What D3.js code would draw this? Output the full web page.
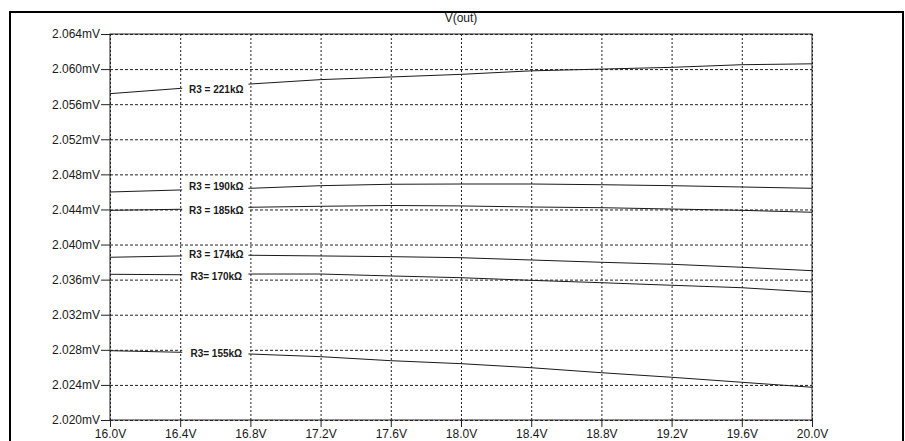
<!DOCTYPE html>
<html>
<head>
<meta charset="utf-8">
<script src="https://cdn.jsdelivr.net/npm/d3@7"></script>
<style>
  body { margin: 0; background: #fff; }
  svg { display: block; }
  text { font-family: "Liberation Sans", Arial, sans-serif; fill: #1a1a1a; }
</style>
</head>
<body>
<script>
      // data (V in volts, V(out) in mV)
      var vin = [16.0, 16.4, 16.8, 17.2, 17.6, 18.0, 18.4, 18.8, 19.2, 19.6, 20.0];
      var out221k = [2.0572, 2.0578, 2.0583, 2.0588, 2.0591, 2.0594, 2.0598, 2.0600, 2.0602, 2.0605, 2.0606];
      var out190k = [2.04599, 2.04622, 2.04641, 2.04671, 2.04687, 2.04690, 2.04690, 2.04682, 2.04671, 2.04656, 2.04641];
      var out185k = [2.04390, 2.04402, 2.04425, 2.04436, 2.04445, 2.04440, 2.04428, 2.04420, 2.04405, 2.04390, 2.04368];
      var out174k = [2.03855, 2.03870, 2.03878, 2.03870, 2.03862, 2.03850, 2.03824, 2.03798, 2.03775, 2.03741, 2.03702];
      var out170k = [2.03661, 2.03656, 2.03664, 2.03664, 2.03642, 2.03622, 2.03592, 2.03565, 2.03536, 2.03508, 2.03459];
      var out155k = [2.02790, 2.02772, 2.02752, 2.02722, 2.02676, 2.02642, 2.02596, 2.02539, 2.02487, 2.02430, 2.02373];

      var seriesNames = ["R3 = 221kΩ", "R3 = 190kΩ", "R3 = 185kΩ", "R3 = 174kΩ", "R3= 170kΩ", "R3= 155kΩ"];
      var seriesValues = [out221k, out190k, out185k, out174k, out170k, out155k];
      var labelAt = [2.0577, 2.0466, 2.0439, 2.0389, 2.0364, 2.0276];   // mV level of each label

      var xTickValues = [16.0, 16.4, 16.8, 17.2, 17.6, 18.0, 18.4, 18.8, 19.2, 19.6, 20.0];
      var yTickValues = [2.020, 2.024, 2.028, 2.032, 2.036, 2.040, 2.044, 2.048, 2.052, 2.056, 2.060, 2.064];
      var title = "V(out)";

      var w = 905;
      var h = 441;
      var pL = 110, pR = 812, pT = 34, pB = 420;

      var svg = d3.select("body")
            .append("svg")
            .attr("width", w)
            .attr("height", h);

      var x = d3.scaleLinear().domain([16, 20]).range([pL, pR]);
      var y = d3.scaleLinear().domain([2.020, 2.064]).range([pB, pT]);

      // outer window frame
      svg.append("path")
         .attr("d", "M10,441 L10,12 L903,12 L903,441")
         .attr("fill", "none")
         .attr("stroke", "#000")
         .attr("stroke-width", 2);

      // dotted grid
      svg.append("g")
         .attr("transform", "translate(0," + pB + ")")
         .call(d3.axisBottom(x).tickValues(xTickValues).tickSize(-(pB - pT)).tickFormat(""))
         .call(function(g) {
            g.select(".domain").remove();
            g.selectAll("line").attr("stroke", "#222").attr("stroke-dasharray", "2,2");
         });

      svg.append("g")
         .attr("transform", "translate(" + pL + ",0)")
         .call(d3.axisLeft(y).tickValues(yTickValues).tickSize(-(pR - pL)).tickFormat(""))
         .call(function(g) {
            g.select(".domain").remove();
            g.selectAll("line").attr("stroke", "#222").attr("stroke-dasharray", "3,2");
         });

      // curves
      var line = d3.line()
         .x(function(d, i) { return x(vin[i]); })
         .y(function(d) { return y(d); });

      svg.selectAll("path.curve")
         .data(seriesValues)
         .enter()
         .append("path")
         .attr("class", "curve")
         .attr("d", line)
         .attr("fill", "none")
         .attr("stroke", "#1a1a1a")
         .attr("stroke-width", 1);

      // label backgrounds hide curves and grid between 16.4V and 16.8V
      svg.selectAll("rect.lbl")
         .data(labelAt)
         .enter()
         .append("rect")
         .attr("class", "lbl")
         .attr("x", x(16.4) + 2)
         .attr("y", function(d) { return y(d) - 7; })
         .attr("width", x(16.8) - x(16.4) - 4)
         .attr("height", 14)
         .attr("fill", "#fff");

      // plot frame
      svg.append("rect")
         .attr("x", pL)
         .attr("y", pT)
         .attr("width", pR - pL)
         .attr("height", pB - pT)
         .attr("fill", "none")
         .attr("stroke", "#222")
         .attr("stroke-width", 1);

      // axes with ticks and labels
      svg.append("g")
         .attr("transform", "translate(" + pL + ",0)")
         .call(d3.axisLeft(y).tickValues(yTickValues).tickSize(9).tickPadding(1)
            .tickFormat(function(d) { return d3.format(".3f")(d) + "mV"; }))
         .call(function(g) {
            g.select(".domain").remove();
            g.selectAll("line").attr("stroke", "#222");
            g.selectAll("text").attr("font-size", 12).attr("font-family", "Liberation Sans, Arial, sans-serif").attr("fill", "#1a1a1a");
         });

      svg.append("g")
         .attr("transform", "translate(0," + pB + ")")
         .call(d3.axisBottom(x).tickValues(xTickValues).tickSize(7).tickPadding(2)
            .tickFormat(function(d) { return d3.format(".1f")(d) + "V"; }))
         .call(function(g) {
            g.select(".domain").remove();
            g.selectAll("line").attr("stroke", "#222");
            g.selectAll("text").attr("font-size", 12).attr("font-family", "Liberation Sans, Arial, sans-serif").attr("fill", "#1a1a1a");
         });

      // title
      svg.append("text")
         .text(title)
         .attr("x", (pL + pR) / 2)
         .attr("y", 22)
         .attr("text-anchor", "middle")
         .attr("font-size", 12);

      // curve labels
      svg.selectAll("text.name")
         .data(seriesNames)
         .enter()
         .append("text")
         .attr("class", "name")
         .text(function(d) { return d; })
         .attr("x", (x(16.4) + x(16.8)) / 2 + 1)
         .attr("y", function(d, i) { return y(labelAt[i]) + 3.5; })
         .attr("text-anchor", "middle")
         .attr("font-size", 10)
         .attr("font-weight", "bold");
</script>
</body>
</html>
